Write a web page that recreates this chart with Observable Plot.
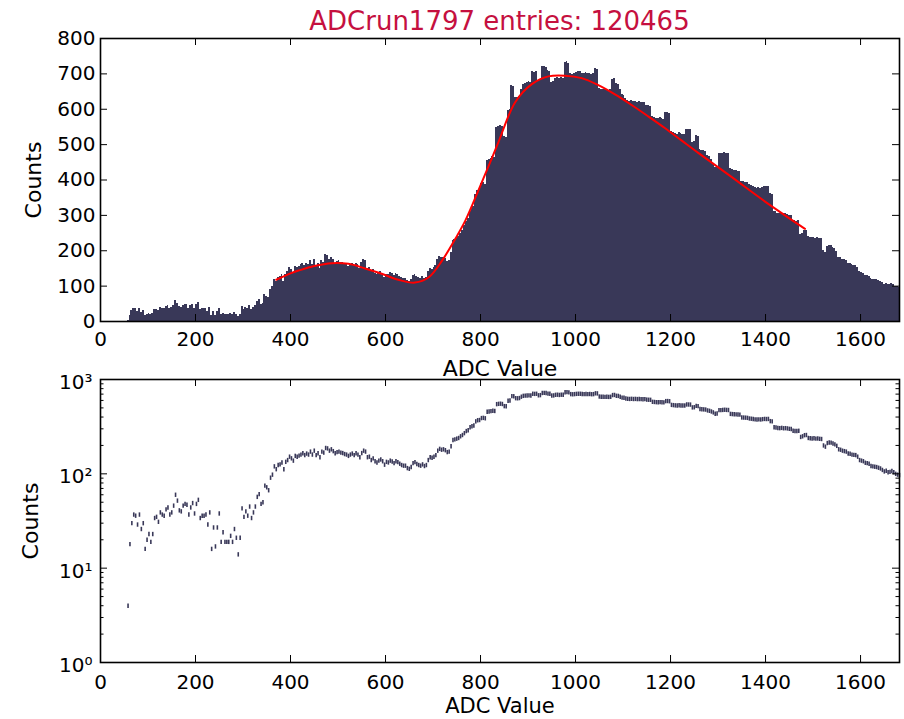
<!DOCTYPE html>
<html><head><meta charset="utf-8">
<script src="https://cdn.jsdelivr.net/npm/d3@7"></script>
<script src="https://cdn.jsdelivr.net/npm/@observablehq/plot@0.6"></script>
<style>
body{margin:0;background:#fff;}
#wrap{position:relative;width:904px;height:719px;overflow:hidden;font-family:"DejaVu Sans",sans-serif;}
#title{position:absolute;left:0;width:999px;top:8px;text-align:center;font-size:26px;line-height:26px;color:#c5103f;white-space:nowrap;}
.panel{position:absolute;left:0;}
</style></head>
<body><div id="wrap"><div id="title">ADCrun1797 entries: 120465</div></div>
<script>
// ---- data ----
const titleText = "ADCrun1797 entries: 120465";
const binWidth = 4;          // ADC units per bin, first bin starts at 0
const counts = [
0,0,0,0,0,0,0,0,0,0,
0,0,0,0,4,18,30,37,36,29,
37,26,30,16,20,23,19,23,34,35,
31,39,37,36,42,44,37,39,46,60,
52,41,40,46,48,47,37,44,49,38,
48,53,34,36,36,37,29,39,16,27,
17,27,38,19,24,19,19,19,22,19,
26,21,14,21,43,35,40,36,45,34,
39,45,57,61,48,50,75,72,67,91,
98,120,112,124,126,132,112,134,140,152,
146,138,155,152,156,160,165,158,164,160,
172,160,176,158,165,150,172,168,188,186,
176,182,174,165,170,172,168,166,162,160,
155,160,164,158,165,160,150,166,176,172,
150,152,140,146,136,132,138,142,136,125,
134,132,138,135,130,136,133,128,124,122,
122,115,113,118,130,133,127,124,122,126,
121,124,140,150,148,152,158,176,184,180,
182,178,170,172,196,228,232,236,240,250,
258,270,284,290,312,320,325,360,370,372,
390,392,388,455,458,462,466,464,548,552,
554,550,522,520,596,600,667,664,634,632,
636,657,671,674,676,678,676,706,704,706,
680,683,720,721,718,709,706,676,678,688,
690,686,690,688,732,734,730,700,697,700,
704,706,706,702,700,703,700,702,698,700,
714,712,660,657,656,655,657,654,656,684,
686,672,670,657,643,640,629,624,622,624,
621,623,620,622,620,618,620,612,610,609,
580,578,575,574,576,573,572,590,591,588,
538,535,532,530,533,531,530,530,544,543,
542,506,508,525,522,486,484,482,480,470,
466,458,448,434,436,474,474,476,478,476,
475,432,430,428,427,425,424,396,395,394,
392,386,384,382,378,377,378,377,380,382,
381,382,362,360,312,310,306,305,307,304,
305,303,300,299,286,285,284,286,246,250,
257,258,240,238,237,238,236,237,235,234,
200,194,212,215,214,210,205,198,182,180,
176,174,172,164,163,160,159,158,152,140,
138,136,131,130,128,121,120,119,118,116,
114,110,106,108,104,105,107,104,100,98,
97
];
// fitted curve
const fitX = [370,400,417,450,487,522,557,592,627,662,691,719,747,768,796,824,838,873,908,943,978,1013,1048,1083,1118,1153,1188,1223,1259,1329,1399,1483];
const fitY = [118,136,144,157,165,163,150,135,118,110,125,172,234,285,372,462,508,620,671,693,695,688,668,642,612,580,547,512,476,408,339,262];
const xTicks = [0,200,400,600,800,1000,1200,1400,1600];
const yTicksLin = [0,100,200,300,400,500,600,700,800];
const yTicksLog = [1,10,100,1000];
const logTickLabels = ["10\u2070","10\u00b9","10\u00b2","10\u00b3"];
const logMinor = [2,3,4,5,6,7,8,9,20,30,40,50,60,70,80,90,200,300,400,500,600,700,800,900];
const xLabel = "ADC Value";
const yLabel = "Counts";

// ---- styles ----
const barColor = "#393858";
const fitColor = "#ff0000";
const W = 904, mL = 100, mR = 5;
const frameW = W - mL - mR;
const xDomain = [0, 1682];

const bins = counts.map((c, i) => ({x0: i * binWidth, x1: (i + 1) * binWidth, xc: (i + 0.5) * binWidth, count: c}));
const fit = fitX.map((x, i) => ({x, y: fitY[i]}));

function inwardTicks(frameH, xt, yt, major, yMinor) {
  const m = [
    Plot.ruleX(xt, {x: d => d, insetTop: frameH - major, stroke: "black", strokeWidth: 1}),
    Plot.ruleX(xt, {x: d => d, insetBottom: frameH - major, stroke: "black", strokeWidth: 1}),
    Plot.ruleY(yt, {y: d => d, insetRight: frameW - major, stroke: "black", strokeWidth: 1}),
    Plot.ruleY(yt, {y: d => d, insetLeft: frameW - major, stroke: "black", strokeWidth: 1})
  ];
  if (yMinor) {
    m.push(Plot.ruleY(yMinor, {y: d => d, insetRight: frameW - major / 2, stroke: "black", strokeWidth: 1}));
    m.push(Plot.ruleY(yMinor, {y: d => d, insetLeft: frameW - major / 2, stroke: "black", strokeWidth: 1}));
  }
  return m;
}

const common = {fontFamily: "DejaVu Sans", fontSize: "20px", color: "black", background: "transparent", overflow: "visible"};
const plain = d => String(d);

// ---- top panel ----
const H1 = 380, mT1 = 38, mB1 = 59, fH1 = H1 - mT1 - mB1;
const topChart = Plot.plot({
  width: W, height: H1, marginLeft: mL, marginRight: mR, marginTop: mT1, marginBottom: mB1,
  style: common,
  x: {domain: xDomain},
  y: {domain: [0, 800]},
  marks: [
    Plot.rectY(bins, {x1: "x0", x2: "x1", y: "count", fill: barColor, inset: 0, clip: true, shapeRendering: "crispEdges"}),
    Plot.line(fit, {x: "x", y: "y", stroke: fitColor, strokeWidth: 2, curve: "catmull-rom"}),
    ...inwardTicks(fH1, xTicks, yTicksLin, 7),
    Plot.frame({stroke: "black", strokeWidth: 1.6}),
    Plot.axisX(xTicks, {anchor: "bottom", tickSize: 0, tickPadding: 10, fontSize: 20, label: null, tickFormat: plain}),
    Plot.axisY(yTicksLin, {anchor: "left", tickSize: 0, tickPadding: 5, fontSize: 20, label: null, tickFormat: plain}),
    Plot.text([xLabel], {frameAnchor: "bottom", lineAnchor: "middle", dy: 47, fontSize: 22, text: d => d}),
    Plot.text([yLabel], {frameAnchor: "left", textAnchor: "middle", lineAnchor: "middle", dx: -67, rotate: -90, fontSize: 22, text: d => d})
  ]
});
topChart.classList.add("panel"); topChart.style.top = "0px";

// ---- bottom panel ----
const H2 = 379, mT2 = 39, mB2 = 57, fH2 = H2 - mT2 - mB2;
const pts = bins.filter(d => d.count > 0);
const dash = {draw(ctx) { ctx.moveTo(-0.8, -2.2); ctx.lineTo(0.8, -2.2); ctx.lineTo(0.8, 2.2); ctx.lineTo(-0.8, 2.2); ctx.closePath(); }};
const bottomChart = Plot.plot({
  width: W, height: H2, marginLeft: mL, marginRight: mR, marginTop: mT2, marginBottom: mB2,
  style: common,
  x: {domain: xDomain},
  y: {type: "log", domain: [1, 1000]},
  marks: [
    Plot.dot(pts, {x: "xc", y: "count", symbol: dash, fill: barColor, stroke: null, r: 2}),
    ...inwardTicks(fH2, xTicks, yTicksLog, 7, logMinor),
    Plot.frame({stroke: "black", strokeWidth: 1.6}),
    Plot.axisX(xTicks, {anchor: "bottom", tickSize: 0, tickPadding: 12, fontSize: 20, label: null, tickFormat: plain}),
    Plot.axisY(yTicksLog, {anchor: "left", tickSize: 0, tickPadding: 8, fontSize: 20, dy: 3, label: null, tickFormat: d => logTickLabels[yTicksLog.indexOf(d)]}),
    Plot.text([xLabel], {frameAnchor: "bottom", lineAnchor: "middle", dy: 44, fontSize: 21, text: d => d}),
    Plot.text([yLabel], {frameAnchor: "left", textAnchor: "middle", lineAnchor: "middle", dx: -70, rotate: -90, fontSize: 22, text: d => d})
  ]
});
bottomChart.classList.add("panel"); bottomChart.style.top = "340px";

const wrap = document.getElementById("wrap");
wrap.appendChild(topChart);
wrap.appendChild(bottomChart);
document.getElementById("title").textContent = titleText;
</script>
</body></html>
